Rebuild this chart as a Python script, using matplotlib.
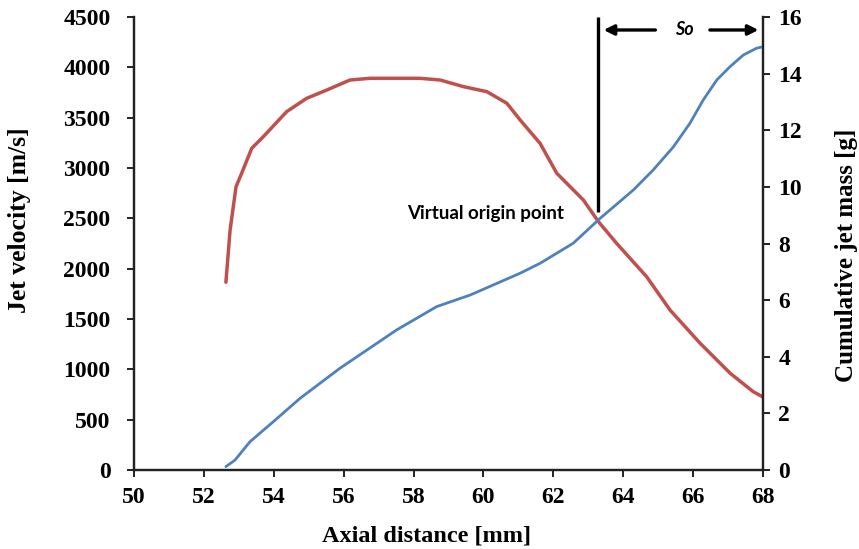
import matplotlib
matplotlib.use("Agg")
import matplotlib.pyplot as plt

# Jet velocity (left axis)
vel_x = [52.63, 52.75, 52.92, 53.08, 53.37, 53.70, 54.37, 54.94, 55.52, 56.18, 56.75,
         58.19, 58.76, 59.43, 60.10, 60.67, 61.05, 61.62, 62.10, 62.86, 63.29, 63.81,
         64.67, 65.34, 66.20, 67.06, 67.72, 68.00]
vel_y = [1865, 2384, 2814, 2947, 3196, 3311, 3560, 3692, 3775, 3874, 3891,
         3891, 3874, 3808, 3758, 3643, 3477, 3245, 2947, 2682, 2467, 2252,
         1920, 1589, 1259, 961, 778, 725]

# Cumulative jet mass (right axis)
mass_x = [52.63, 52.89, 53.32, 53.99, 54.75, 55.90, 57.52, 58.66, 59.62, 61.05, 61.62,
          62.57, 63.34, 64.29, 64.86, 65.44, 65.91, 66.29, 66.68, 67.06, 67.44, 67.82, 68.00]
mass_y = [0.12, 0.35, 1.00, 1.71, 2.53, 3.60, 4.95, 5.77, 6.18, 6.95, 7.30,
          8.01, 8.89, 9.89, 10.60, 11.42, 12.25, 13.07, 13.78, 14.25, 14.66, 14.90, 14.95]

x_ticks = [50, 52, 54, 56, 58, 60, 62, 64, 66, 68]
vel_ticks = [0, 500, 1000, 1500, 2000, 2500, 3000, 3500, 4000, 4500]
mass_ticks = [0, 2, 4, 6, 8, 10, 12, 14, 16]

origin_x = 63.28
origin_top = 4500
origin_bottom = 2563

RED = "#C0504D"
BLUE = "#4F81BD"
serif = ["Liberation Serif", "DejaVu Serif"]
sans = ["Lato", "DejaVu Sans"]

W, H = 859, 549
fig = plt.figure(figsize=(W/100, H/100), dpi=100)
ax = fig.add_axes([134/W, 1-470/H, (763-134)/W, (470-17)/H])
ax2 = ax.twinx()

ax.plot(vel_x, vel_y, color=RED, lw=2.5, solid_capstyle="round", solid_joinstyle="round")
ax2.plot(mass_x, mass_y, color=BLUE, lw=2.0, solid_capstyle="round", solid_joinstyle="round")

ax.set_xlim(50, 68)
ax.set_ylim(0, 4500)
ax2.set_ylim(0, 16)
ax.set_xticks(x_ticks)
ax.set_yticks(vel_ticks)
ax2.set_yticks(mass_ticks)

for a in (ax, ax2):
    a.spines["top"].set_visible(False)
    for s in a.spines.values():
        s.set_linewidth(1.6)
        s.set_color("#222222")
    a.tick_params(direction="out", length=5, width=1.4, color="#222222")
    for lab in a.get_xticklabels() + a.get_yticklabels():
        lab.set_fontfamily(serif)
        lab.set_fontweight("bold")
        lab.set_fontsize(17)

ax.tick_params(axis="y", pad=12)
ax.tick_params(axis="x", pad=7)
ax2.tick_params(axis="y", pad=6)

fig.text(427/W, 1-536/H, "Axial distance [mm]", fontfamily=serif, fontweight="bold",
         fontsize=17.5, ha="center", va="center")
fig.text(20/W, 1-220/H, "Jet velocity [m/s]", fontfamily=serif, fontweight="bold",
         fontsize=18.5, ha="center", va="center", rotation=90)
fig.text(846/W, 1-255/H, "Cumulative jet mass [g]", fontfamily=serif, fontweight="bold",
         fontsize=18, ha="center", va="center", rotation=90)

ax.vlines(origin_x, origin_bottom, origin_top, color="black", lw=2.4, clip_on=False)
ax.text(57.81, 2545, "Virtual origin point", fontfamily=sans,
        fontweight="bold", fontsize=13.5, va="center", ha="left")

arrow_y = 4371
ax.annotate("", xy=(63.36, arrow_y), xytext=(65.0, arrow_y),
            arrowprops=dict(arrowstyle="-|>", color="black", lw=2.4, mutation_scale=15),
            annotation_clip=False)
ax.annotate("", xy=(67.95, arrow_y), xytext=(66.4, arrow_y),
            arrowprops=dict(arrowstyle="-|>", color="black", lw=2.4, mutation_scale=15),
            annotation_clip=False)
ax.text(65.75, arrow_y, "So", fontfamily=sans, fontweight="bold",
        fontstyle="italic", fontsize=13, ha="center", va="center")

fig.savefig("out.png", dpi=100)
